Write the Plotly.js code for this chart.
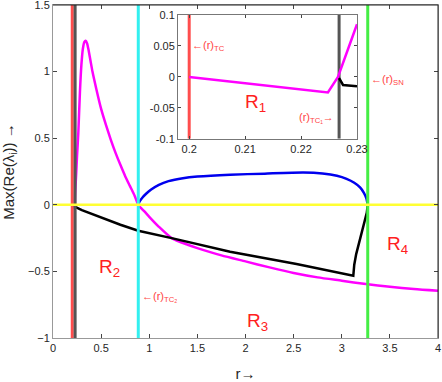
<!DOCTYPE html>
<html lang="en">
<head>
    <meta charset="UTF-8">
    <title>Max(Re(lambda)) vs r</title>
    <script src="https://cdn.plot.ly/plotly-3.0.1.min.js"></script>
    <style>
        body { margin: 0; padding: 0; background: white; }
        #chart { width: 442px; height: 382px; }
    </style>
</head>
<body>
    <div id="chart"></div>
    <script>
        // magenta branch (first four points are the inset part near r = 0.2..0.23)
        const magentaR = [0.2, 0.2248, 0.2266, 0.23, 0.24, 0.25, 0.263, 0.28, 0.295, 0.31, 0.325, 0.34, 0.355, 0.37, 0.39, 0.41,
                          0.45, 0.5, 0.55, 0.6, 0.65, 0.7, 0.75, 0.8, 0.85, 0.886,
                          0.95, 1.0, 1.1, 1.233, 1.4, 1.5, 1.75, 2.0, 2.25, 2.5, 2.75, 3.0, 3.25, 3.5, 3.75, 4.0];
        const magentaV = [0, -0.025, 0, 0.085, 0.22, 0.37, 0.54, 0.85, 1.05, 1.17, 1.222, 1.232, 1.21, 1.16, 1.08, 1.0,
                          0.87, 0.72, 0.6, 0.49, 0.39, 0.3, 0.215, 0.14, 0.065, 0,
                          -0.05, -0.09, -0.165, -0.25, -0.3, -0.325, -0.38, -0.425, -0.47, -0.512, -0.545, -0.57, -0.595, -0.615, -0.632, -0.645];
        // blue branch
        const blueR = [0.886, 0.9, 0.93, 0.97, 1.02, 1.1, 1.2, 1.35, 1.5, 1.84, 2.2, 2.6, 2.8, 2.95, 3.05, 3.13, 3.19, 3.23, 3.255, 3.27];
        const blueV = [0, 0.025, 0.055, 0.085, 0.115, 0.15, 0.178, 0.2, 0.212, 0.226, 0.234, 0.242, 0.235, 0.218, 0.195, 0.165, 0.13, 0.09, 0.05, 0];
        // black branch
        const blackR = [0.2268, 0.2275, 0.23, 0.3, 0.5, 0.7, 0.886, 1.233, 1.84, 2.53, 3.12, 3.13, 3.15, 3.19, 3.24, 3.26, 3.27];
        const blackV = [-0.002, -0.013, -0.015, -0.04, -0.095, -0.15, -0.195, -0.25, -0.352, -0.445, -0.532, -0.45, -0.37, -0.264, -0.125, -0.06, 0];

        // critical values of r
        const rTC = 0.2;
        const rTC1 = 0.2268;
        const rTC2 = 0.886;
        const rSN = 3.27;

        const xTicks = [0, 0.5, 1, 1.5, 2, 2.5, 3, 3.5, 4];
        const yTicks = [-1, -0.5, 0, 0.5, 1, 1.5];
        const insetXTicks = [0.2, 0.21, 0.22, 0.23];
        const insetYTicks = [-0.1, -0.05, 0, 0.05, 0.1];

        const red = '#ff4444';
        const fontFam = 'Liberation Sans, Arial, sans-serif';

        function curve(x, y, color, ax, ay, shape) {
            return { x: x, y: y, mode: 'lines', line: { color: color, width: 2.5, shape: shape || 'linear', smoothing: 0.6 },
                     xaxis: ax, yaxis: ay, hoverinfo: 'skip' };
        }
        function vline(r, y0, y1, color, ax, ay) {
            return { x: [r, r], y: [y0, y1], mode: 'lines', line: { color: color, width: 3 },
                     xaxis: ax, yaxis: ay, hoverinfo: 'skip' };
        }

        const data = [
            curve(magentaR, magentaV, '#ff00ff', 'x', 'y', 'spline'),
            curve(blueR, blueV, '#0000ee', 'x', 'y', 'spline'),
            curve(blackR, blackV, '#000000', 'x', 'y'),
            vline(rTC, -1, 1.5, '#ff4d4d', 'x', 'y'),
            vline(rTC1 + 0.003, -1, 1.5, '#555555', 'x', 'y'),
            vline(rTC2, -1, 1.5, '#33f0f0', 'x', 'y'),
            vline(rSN, -1, 1.5, '#44ee44', 'x', 'y'),
            { x: [0, 4], y: [0, 0], mode: 'lines', line: { color: '#ffff33', width: 2.5 },
              xaxis: 'x', yaxis: 'y', hoverinfo: 'skip' },
            // inset
            vline(rTC, -0.1, 0.1, '#ff4d4d', 'x2', 'y2'),
            vline(rTC1, -0.1, 0.1, '#555555', 'x2', 'y2'),
            curve(magentaR.slice(0, 4), magentaV.slice(0, 4), '#ff00ff', 'x2', 'y2'),
            curve(blackR.slice(0, 3), blackV.slice(0, 3), '#000000', 'x2', 'y2')
        ];

        const tickFont = { family: fontFam, size: 11, color: '#262626' };
        const smallFont = { family: fontFam, size: 11, color: red };
        const bigFont = { family: fontFam, size: 19, color: '#ff2020' };

        const layout = {
            width: 442,
            height: 382,
            margin: { l: 53, r: 4, t: 5, b: 44 },
            paper_bgcolor: 'white',
            plot_bgcolor: 'white',
            showlegend: false,
            xaxis: {
                domain: [0, 1], range: [0, 4], tickvals: xTicks, automargin: false,
                ticks: 'inside', ticklen: 4, tickcolor: '#444', showgrid: false, zeroline: false,
                showline: true, linecolor: '#999', mirror: 'ticks', tickfont: tickFont, ticklabeloverflow: 'allow',
                title: { text: 'r→', font: { family: fontFam, size: 15, color: '#262626' } }
            },
            yaxis: {
                domain: [0, 1], range: [-1, 1.5], tickvals: yTicks, automargin: false,
                ticks: 'inside', ticklen: 4, tickcolor: '#444', showgrid: false, zeroline: false,
                showline: true, linecolor: '#999', mirror: 'ticks', tickfont: tickFont, ticklabeloverflow: 'allow',
                title: { text: 'Max(Re(λ<sub>i</sub>)) →', font: { family: fontFam, size: 15, color: '#262626' } }
            },
            xaxis2: {
                domain: [0.3247, 0.7896], range: [0.198, 0.23], tickvals: insetXTicks, automargin: false,
                ticktext: ['0.2', '0.21', '0.22', '0.23'], ticklabeloverflow: 'allow',
                anchor: 'y2', ticks: 'inside', ticklen: 3, tickcolor: '#444', showgrid: false, zeroline: false,
                showline: true, linecolor: '#777', mirror: 'ticks', tickfont: tickFont
            },
            yaxis2: {
                domain: [0.598, 0.97], range: [-0.1, 0.1], tickvals: insetYTicks, automargin: false,
                ticktext: ['-0.1', '-0.05', '0', '0.05', '0.1'], ticklabeloverflow: 'allow',
                anchor: 'x2', ticks: 'inside', ticklen: 3, tickcolor: '#444', showgrid: false, zeroline: false,
                showline: true, linecolor: '#777', mirror: 'ticks', tickfont: tickFont
            },
            shapes: [
                { type: 'line', xref: 'paper', yref: 'paper', x0: 0, x1: 1, y0: 1, y1: 1, line: { color: '#222', width: 1 } },
                { type: 'line', xref: 'paper', yref: 'paper', x0: 1, x1: 1, y0: 0, y1: 1, line: { color: '#222', width: 1 } }
            ],
            annotations: [
                { text: 'R<sub>1</sub>', x: 0.2118, y: -0.042, xref: 'x2', yref: 'y2', showarrow: false, font: bigFont },
                { text: 'R<sub>2</sub>', x: 0.59, y: -0.475, xref: 'x', yref: 'y', showarrow: false, font: bigFont },
                { text: 'R<sub>3</sub>', x: 2.12, y: -0.88, xref: 'x', yref: 'y', showarrow: false, font: bigFont },
                { text: 'R<sub>4</sub>', x: 3.58, y: -0.3, xref: 'x', yref: 'y', showarrow: false, font: bigFont },
                { text: '←(r)<sub>TC</sub>', x: 0.2002, y: 0.05, xref: 'x2', yref: 'y2', xanchor: 'left', showarrow: false, font: smallFont },
                { text: '(r)<sub>TC₁</sub>→', x: 0.2263, y: -0.066, xref: 'x2', yref: 'y2', xanchor: 'right', showarrow: false, font: smallFont },
                { text: '←(r)<sub>SN</sub>', x: 3.285, y: 0.94, xref: 'x', yref: 'y', xanchor: 'left', showarrow: false, font: smallFont },
                { text: '←(r)<sub>TC₂</sub>', x: 0.9, y: -0.69, xref: 'x', yref: 'y', xanchor: 'left', showarrow: false, font: smallFont }
            ]
        };

        Plotly.newPlot('chart', data, layout, { displayModeBar: false, staticPlot: true });
    </script>
</body>
</html>
